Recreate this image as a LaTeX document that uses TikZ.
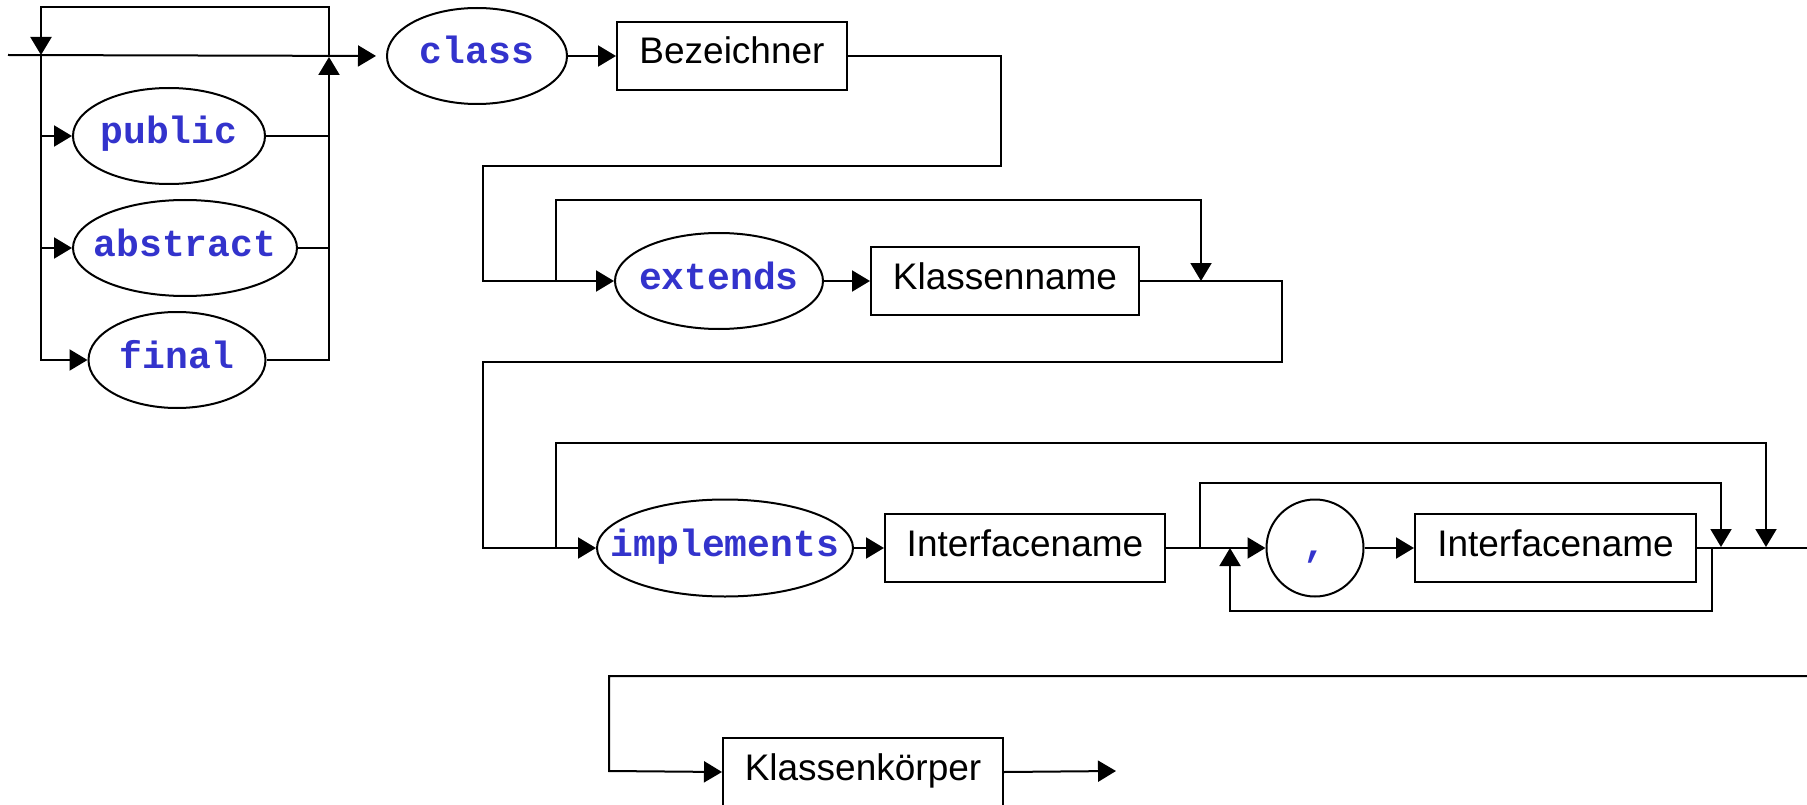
\documentclass[tikz,border=0pt]{standalone}
\usepackage{fontspec}
\setmainfont{Liberation Sans}
\newfontfamily\kwfont{Liberation Mono}
\usetikzlibrary{shapes.geometric,arrows.meta}
\definecolor{kwblue}{RGB}{51,51,204}
\newcommand{\kwtext}[1]{\makebox[0pt]{\strut#1}}
\begin{document}
\begin{tikzpicture}[x=1pt,y=-1pt,line width=2pt,
  arr/.style={-{Triangle[length=18pt,width=21pt]}},
  kw/.style={ellipse,draw,inner sep=0pt,font=\kwfont\bfseries\fontsize{38}{40}\selectfont,text=kwblue},
  box/.style={rectangle,draw,inner sep=0pt,minimum height=68pt,font=\fontsize{37}{40}\selectfont,execute at begin node=\strut}]
\useasboundingbox (0,0) rectangle (1807,805);
\clip (0,0) rectangle (1807,805);

% nodes
\node[kw,minimum width=192pt,minimum height=96pt] (public) at (169,136) {\kwtext{public}};
\node[kw,minimum width=224pt,minimum height=96pt] (abstract) at (185,248) {\kwtext{abstract}};
\node[kw,minimum width=177pt,minimum height=96pt] (final) at (177,360) {\kwtext{final}};
\node[kw,minimum width=180pt,minimum height=96pt] (class) at (477,56) {\kwtext{class}};
\node[box,minimum width=230pt] (bez) at (732,56) {Bezeichner};
\node[kw,minimum width=208pt,minimum height=96pt] (ext) at (719,281) {\kwtext{extends}};
\node[box,minimum width=268pt] (kname) at (1005,281) {Klassenname};
\node[kw,minimum width=256pt,minimum height=97pt] (impl) at (725,548) {\kwtext{implements}};
\node[box,minimum width=280pt] (if1) at (1025,548) {Interfacename};
\node[kw,minimum width=97pt,minimum height=97pt] (comma) at (1315,548) {\kwtext{,}};
\node[box,minimum width=281pt] (if2) at (1555.5,548) {Interfacename};
\node[box,minimum width=280pt] (body) at (863,772) {Klassenkörper};

% coordinates
\coordinate (s0) at (8,55);
\coordinate (j1) at (41,55);
\coordinate (j2) at (329,57);
\coordinate (t0) at (41,7);
\coordinate (t1) at (329,7);
\coordinate (r1a) at (1001,56);
\coordinate (r1b) at (1001,166);
\coordinate (r1c) at (483,166);
\coordinate (r2s) at (483,281);
\coordinate (b2) at (556,281);
\coordinate (b2t) at (556,200);
\coordinate (b2r) at (1201,200);
\coordinate (m2) at (1201,281);
\coordinate (r2a) at (1282,281);
\coordinate (r2b) at (1282,362);
\coordinate (r2c) at (483,362);
\coordinate (r3s) at (483,548);
\coordinate (b3) at (556,548);
\coordinate (b3t) at (556,443);
\coordinate (b3r) at (1766,443);
\coordinate (m3a) at (1766,547);
\coordinate (b4) at (1200,548);
\coordinate (b4t) at (1200,483);
\coordinate (b4r) at (1721,483);
\coordinate (m3b) at (1721,547);
\coordinate (l1) at (1712,548);
\coordinate (l1b) at (1712,611);
\coordinate (l1c) at (1230,611);
\coordinate (l1t) at (1230,548);
\coordinate (e3) at (1807,548);
\coordinate (e4) at (1807,676);
\coordinate (r4a) at (609,676);
\coordinate (r4s) at (609,771);
\coordinate (out) at (1116,771);

% row 1: modifiers
\draw[arr,shorten >=10pt] (s0) -- (class.west);
\draw[arr] (j2) -- (t1) -- (t0) -- (j1);
\draw (j1) -- (41,360);
\draw[arr] (j1) |- (public.west);
\draw[arr] (j1) |- (abstract.west);
\draw[arr] (j1) |- (final.west);
\draw (public.east) -- (public.east -| j2);
\draw (abstract.east) -- (abstract.east -| j2);
\draw[arr] (final.east) -| (j2);
\draw[arr] (class.east) -- (bez.west);

% row 2: extends
\draw[arr] (bez.east) -- (r1a) -- (r1b) -- (r1c) -- (r2s) -- (ext.west);
\draw[arr] (b2) -- (b2t) -- (b2r) -- (m2);
\draw[arr] (ext.east) -- (kname.west);

% row 3: implements
\draw[arr] (kname.east) -- (r2a) -- (r2b) -- (r2c) -- (r3s) -- (impl.west);
\draw[arr] (b3) -- (b3t) -- (b3r) -- (m3a);
\draw[arr] (impl.east) -- (if1.west);
\draw[arr] (if1.east) -- (comma.west);
\draw[arr] (b4) -- (b4t) -- (b4r) -- (m3b);
\draw[arr] (l1) -- (l1b) -- (l1c) -- (l1t);
\draw[arr] (comma.east) -- (if2.west);
\draw (if2.east) -- (e3);

% row 4: body
\draw[arr] (e4) -- (r4a) -- (r4s) -- (body.west);
\draw[arr] (body.east) -- (out);
\end{tikzpicture}
\end{document}
